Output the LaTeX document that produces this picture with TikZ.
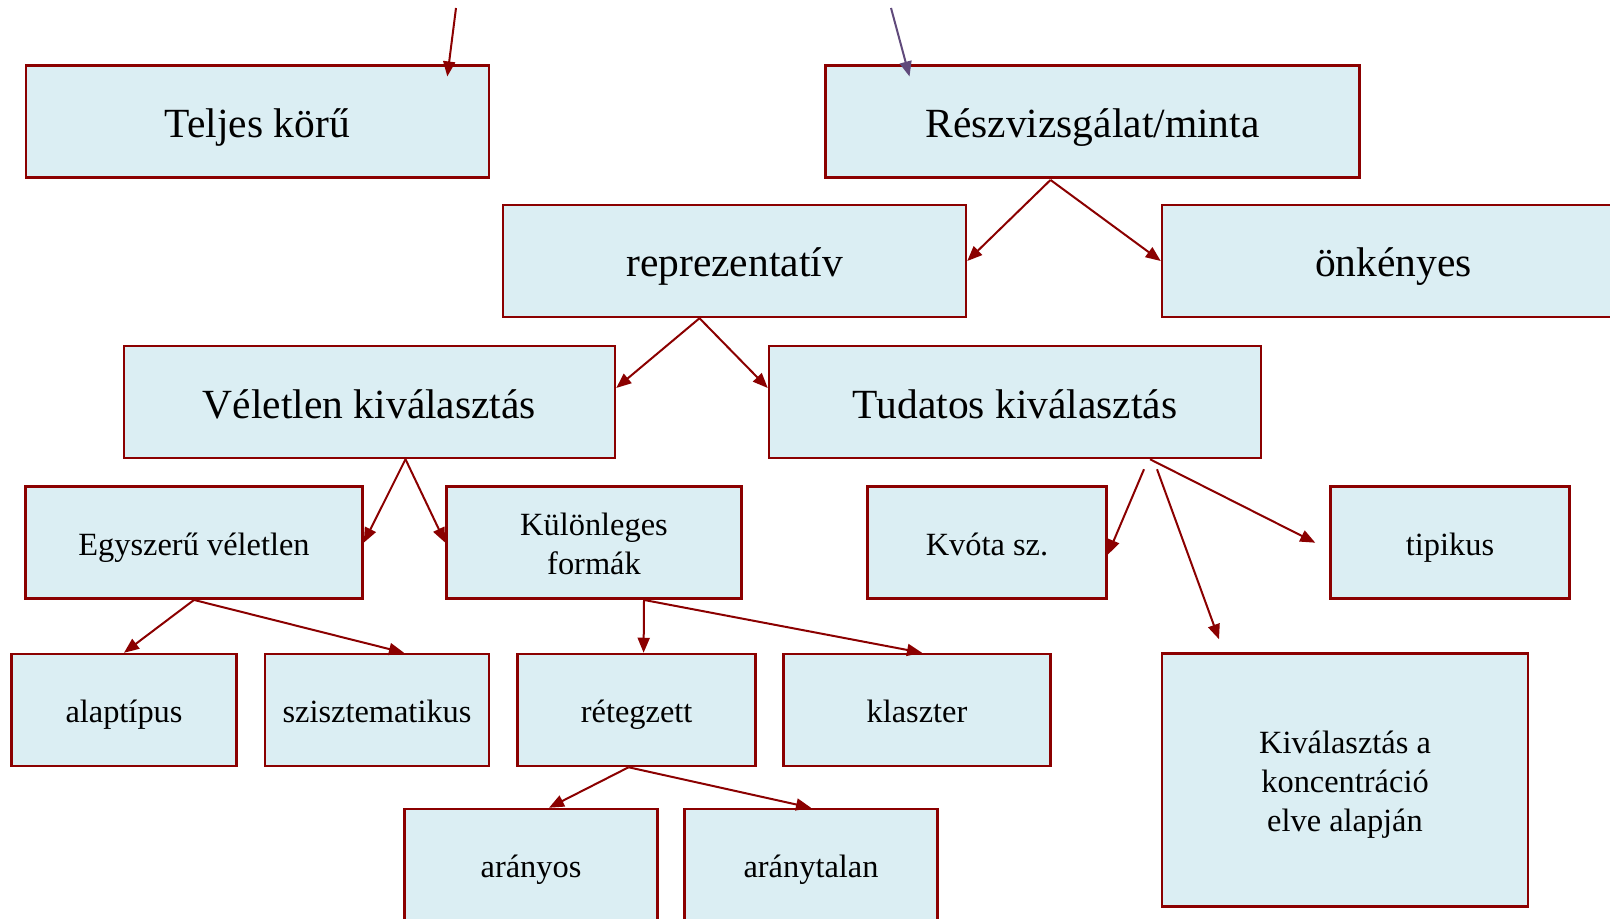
\documentclass[tikz,border=0pt]{standalone}
\usepackage{fontspec}
\setmainfont{Liberation Serif}
\usetikzlibrary{arrows.meta,calc}
\definecolor{boxfill}{RGB}{219,238,243}
\definecolor{boxline}{RGB}{139,0,0}
\definecolor{topline}{RGB}{96,74,123}
\newcommand{\lstrut}{\rule[-0.2em]{0pt}{1.18em}}
\tikzset{
  bigbox/.style={draw=boxline, fill=boxfill, line width=1.25pt, inner sep=0pt,
    minimum height=56pt, align=center, font=\fontsize{20.75}{25}\selectfont,
    execute at begin node=\lstrut},
  smallbox/.style={draw=boxline, fill=boxfill, line width=1.25pt, inner sep=0pt,
    minimum height=56pt, align=center, font=\fontsize{16.2}{19.4}\selectfont,
    execute at begin node=\lstrut},
  link/.style={draw=boxline, line width=1pt, -{Triangle[length=7.5pt,width=6pt]}}
}
\begin{document}
\begin{tikzpicture}[x=0.5pt,y=-0.5pt]
	\clip (0,0) rectangle (1610,919);
	\useasboundingbox (0,0) rectangle (1610,919);
	% Upper level
	\node[bigbox, minimum width=231.5pt] (teljes) at (257.3,121.7) {Teljes körű};
	\node[bigbox, minimum width=267pt] (resz) at (1092.5,121.7) {Részvizsgálat/minta};
	\node[bigbox, minimum width=231.5pt] (reprez) at (734.5,261) {reprezentatív};
	\node[bigbox, minimum width=231.5pt] (onk) at (1393.5,261) {önkényes};
	\node[bigbox, minimum width=245.5pt] (velet) at (369.5,402) {Véletlen kiválasztás};
	\node[bigbox, minimum width=246pt] (tudat) at (1015,402) {Tudatos kiválasztás};
	% Middle level
	\node[smallbox, minimum width=168.5pt] (egysz) at (194,542.7) {Egyszerű véletlen};
	\node[smallbox, minimum width=147.5pt, text height=35.3pt, text depth=3.24pt] (kulon) at (594,542.7) {Különleges\\formák};
	\node[smallbox, minimum width=119.5pt] (kvota) at (987,542.7) {Kvóta sz.};
	\node[smallbox, minimum width=119.5pt] (tipik) at (1450,542.7) {tipikus};
	% Lower level
	\node[smallbox, minimum width=112.5pt] (alap) at (124,710) {alaptípus};
	\node[smallbox, minimum width=112pt] (sziszt) at (377,710) {szisztematikus};
	\node[smallbox, minimum width=119pt] (reteg) at (636.6,710) {rétegzett};
	\node[smallbox, minimum width=133.5pt] (klaszt) at (917,710) {klaszter};
	\node[smallbox, minimum width=183pt, minimum height=126.5pt, text height=54.7pt, text depth=3.24pt] (kival) at (1345,780) {Kiválasztás a\\koncentráció\\elve alapján};
	\node[smallbox, minimum width=126.5pt] (aranyos) at (531,865) {arányos};
	\node[smallbox, minimum width=126.5pt] (arantal) at (811,865) {aránytalan};
	% Incoming arrows from above
	\coordinate (tin) at (456,8);
	\coordinate (rin) at (891,8);
	\draw[link] (tin) -- ($(teljes.north)+(190,12)$);
	\draw[link, draw=topline, -{Triangle[length=7.5pt,width=6pt,fill=topline]}] (rin) -- ($(resz.north)+(-183,12)$);
	% Connectors
	\draw[link] ($(resz.south)+(-42,1)$) -- (reprez.east);
	\draw[link] ($(resz.south)+(-42,1)$) -- (onk.west);
	\draw[link] ($(reprez.south)+(-35,0)$) -- ($(velet.east)+(0,-14)$);
	\draw[link] ($(reprez.south)+(-35,0)$) -- ($(tudat.west)+(0,-14)$);
	\draw[link] ($(velet.south)+(36,0)$) -- (egysz.east);
	\draw[link] ($(velet.south)+(36,0)$) -- (kulon.west);
	\draw[link] ($(tudat.south)+(129,10)$) -- ($(kvota.east)+(0,12)$);
	\draw[link] ($(tudat.south)+(142,10)$) -- ($(kival.north)+(-126,-13)$);
	\draw[link] ($(tudat.south)+(135,0)$) -- ($(tipik.west)+(-14,0)$);
	\draw[link] (egysz.south) -- (alap.north);
	\draw[link] (egysz.south) -- ($(sziszt.north)+(27,0)$);
	\draw[link] ($(kulon.south)+(50,0)$) -- ($(reteg.north)+(7,0)$);
	\draw[link] ($(kulon.south)+(50,0)$) -- ($(klaszt.north)+(5,0)$);
	\draw[link] ($(reteg.south)+(-8,0)$) -- ($(aranyos.north)+(18,0)$);
	\draw[link] ($(reteg.south)+(-8,0)$) -- (arantal.north);
\end{tikzpicture}
\end{document}
